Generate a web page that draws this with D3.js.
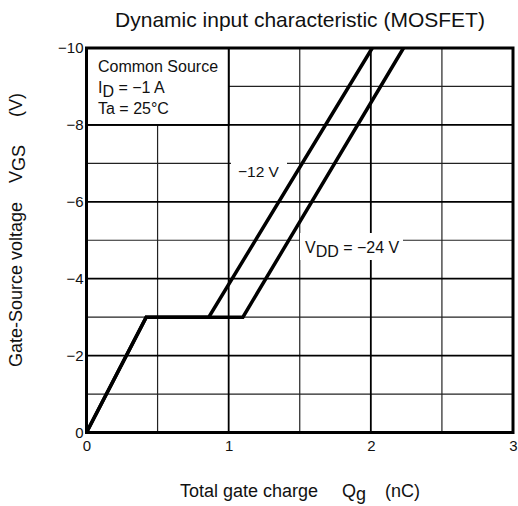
<!DOCTYPE html>
<html>
<head>
<meta charset="utf-8">
<script src="https://cdn.jsdelivr.net/npm/d3@7"></script>
<style>
  body { margin: 0; background: #fff; }
  svg { font-family: "Liberation Sans", Arial, sans-serif; }
</style>
</head>
<body>
<div id="chart"></div>
<script>
// curve data
var qg12 = [0, 0.42, 0.86, 2.01];
var vgs12 = [0, -3, -3, -10];
var qg24 = [0, 0.42, 1.10, 2.23];
var vgs24 = [0, -3, -3, -10];

var xTicks = [0, 1, 2, 3];
var yTicks = [0, -2, -4, -6, -8, -10];
var xMinor = [0.5, 1.5, 2.5];
var yMinor = [-1, -3, -5, -7, -9];

var width = 518, height = 506;

var x = d3.scaleLinear().domain([0, 3]).range([86.5, 513]);
var y = d3.scaleLinear().domain([0, -10]).range([432.5, 48]);

var svg = d3.select("#chart").append("svg")
  .attr("width", width)
  .attr("height", height);

// grid
var grid = svg.append("g");
grid.selectAll(".vmin").data(xMinor).enter().append("line")
  .attr("x1", function(d) { return x(d); }).attr("x2", function(d) { return x(d); })
  .attr("y1", y(0)).attr("y2", y(-10))
  .attr("stroke", "#222").attr("stroke-width", 1.2);
grid.selectAll(".hmin").data(yMinor).enter().append("line")
  .attr("y1", function(d) { return y(d); }).attr("y2", function(d) { return y(d); })
  .attr("x1", x(0)).attr("x2", x(3))
  .attr("stroke", "#222").attr("stroke-width", 1.2);
grid.selectAll(".vmaj").data(xTicks).enter().append("line")
  .attr("x1", function(d) { return x(d); }).attr("x2", function(d) { return x(d); })
  .attr("y1", y(0)).attr("y2", y(-10))
  .attr("stroke", "#000").attr("stroke-width", 1.8);
grid.selectAll(".hmaj").data(yTicks).enter().append("line")
  .attr("y1", function(d) { return y(d); }).attr("y2", function(d) { return y(d); })
  .attr("x1", x(0)).attr("x2", x(3))
  .attr("stroke", "#000").attr("stroke-width", 1.8);

// legend box in top-left cell
svg.append("rect")
  .attr("x", x(0)).attr("y", y(-10))
  .attr("width", x(1) - x(0)).attr("height", y(-8) - y(-10))
  .attr("fill", "#fff").attr("stroke", "#000").attr("stroke-width", 1.8);

svg.append("text").attr("font-size", 16).attr("fill", "#111")
  .attr("x", 98).attr("y", 72).text("Common Source");
var idLine = svg.append("text").attr("font-size", 16).attr("fill", "#111")
  .attr("x", 98).attr("y", 93);
idLine.append("tspan").text("I");
idLine.append("tspan").attr("dy", 4).text("D");
idLine.append("tspan").attr("dy", -4).text(" = \u22121 A");
svg.append("text").attr("font-size", 16).attr("fill", "#111")
  .attr("x", 98).attr("y", 114).text("Ta = 25\u00b0C");

// label backgrounds
svg.append("rect").attr("x", 231).attr("y", 158).attr("width", 56).attr("height", 26).attr("fill", "#fff");
svg.append("rect").attr("x", 300).attr("y", 233).attr("width", 103).attr("height", 27).attr("fill", "#fff");

svg.append("text").attr("x", 238).attr("y", 177).attr("font-size", 15.5).attr("fill", "#111")
  .text("\u221212 V");
var vdd = svg.append("text").attr("x", 305).attr("y", 253).attr("font-size", 16).attr("fill", "#111");
vdd.append("tspan").text("V");
vdd.append("tspan").attr("dy", 4).text("DD");
vdd.append("tspan").attr("dy", -4).text(" = \u221224 V");

// curves
var line = d3.line()
  .x(function(d) { return x(d[0]); })
  .y(function(d) { return y(d[1]); });

[[qg12, vgs12], [qg24, vgs24]].forEach(function(s) {
  svg.append("path")
    .datum(d3.zip(s[0], s[1]))
    .attr("d", line)
    .attr("fill", "none")
    .attr("stroke", "#000")
    .attr("stroke-width", 3.5)
    .attr("stroke-linejoin", "miter");
});

// frame
svg.append("rect")
  .attr("x", x(0)).attr("y", y(-10))
  .attr("width", x(3) - x(0)).attr("height", y(0) - y(-10))
  .attr("fill", "none").attr("stroke", "#000").attr("stroke-width", 3);

// axes
var fmt = d3.format("d");
var yAxis = svg.append("g")
  .attr("transform", "translate(" + (x(0) - 2) + ",0)")
  .call(d3.axisLeft(y).tickValues(yTicks).tickSize(0).tickPadding(1).tickFormat(fmt));
yAxis.select(".domain").remove();
yAxis.selectAll("text").attr("font-size", 15).attr("fill", "#111")
  .attr("font-family", "Liberation Sans, Arial, sans-serif");

var xAxis = svg.append("g")
  .attr("transform", "translate(0," + (y(0) + 4) + ")")
  .call(d3.axisBottom(x).tickValues(xTicks).tickSize(0).tickPadding(4).tickFormat(fmt));
xAxis.select(".domain").remove();
xAxis.selectAll("text").attr("font-size", 15).attr("fill", "#111")
  .attr("font-family", "Liberation Sans, Arial, sans-serif");

// titles
svg.append("text")
  .attr("x", 300).attr("y", 27)
  .attr("text-anchor", "middle")
  .attr("font-size", 21).attr("fill", "#111")
  .text("Dynamic input characteristic (MOSFET)");

var xl = svg.append("text")
  .attr("y", 497)
  .attr("font-size", 18).attr("fill", "#111");
xl.append("tspan").attr("x", 180).text("Total gate charge");
xl.append("tspan").attr("x", 342).text("Q");
xl.append("tspan").attr("dy", 3).text("g");
xl.append("tspan").attr("x", 385).attr("dy", -3).text("(nC)");

var yl = svg.append("text")
  .attr("transform", "translate(22,367) rotate(-90)")
  .attr("font-size", 18).attr("fill", "#111");
yl.append("tspan").attr("x", 0).text("Gate-Source voltage");
yl.append("tspan").attr("x", 184).text("V");
yl.append("tspan").attr("dy", 3).text("GS");
yl.append("tspan").attr("x", 250).attr("dy", -3).text("(V)");
</script>
</body>
</html>
